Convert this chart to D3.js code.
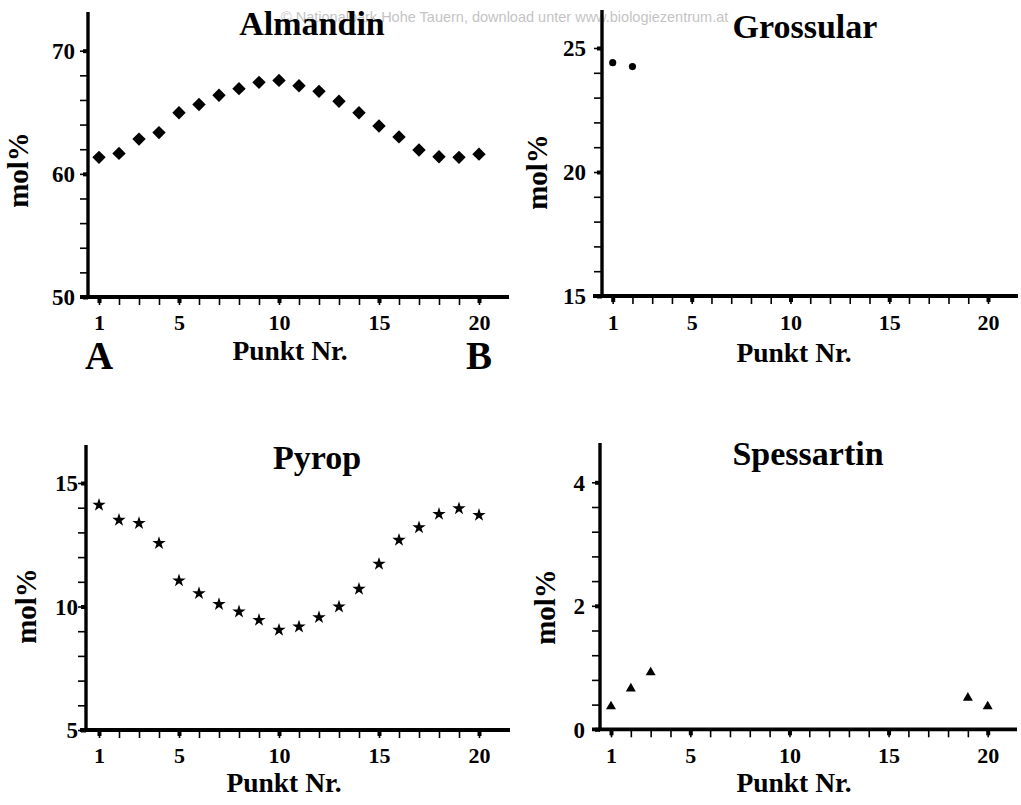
<!DOCTYPE html>
<html><head><meta charset="utf-8">
<script src="https://cdn.jsdelivr.net/npm/d3@7"></script>
<style>
body{margin:0;background:#fff}
svg{display:block}
text{font-family:"Liberation Serif","Times New Roman",serif;font-weight:bold;fill:#000}
</style>
</head><body><svg id="c" width="1021" height="805"></svg>
<script>
// ---- data ----
const pointNr = [1,2,3,4,5,6,7,8,9,10,11,12,13,14,15,16,17,18,19,20];
const almandin = [61.34,61.66,62.82,63.35,64.96,65.63,66.38,66.92,67.43,67.59,67.16,66.70,65.90,64.96,63.88,63.00,61.93,61.39,61.34,61.60];
const grossularNr = [1,2];
const grossular = [24.41,24.25];
const pyrop = [14.11,13.50,13.37,12.56,11.05,10.53,10.09,9.79,9.45,9.05,9.18,9.56,9.99,10.71,11.72,12.69,13.20,13.74,13.97,13.70];
const spessartinNr = [1,2,3,19,20];
const spessartin = [0.37,0.66,0.92,0.51,0.37];
const xTickLabels = [1,5,10,15,20];
const almandinYTicks = [50,60,70];
const grossularYTicks = [15,20,25];
const pyropYTicks = [5,10,15];
const spessartinYTicks = [0,2,4];
const titles = ["Almandin","Grossular","Pyrop","Spessartin"];
const yLabel = "mol%";
const xLabel = "Punkt Nr.";
const watermark = "\u00A9 Nationalpark Hohe Tauern, download unter www.biologiezentrum.at";

// ---- layout ----
const panels = [
  {title:titles[0], xs:pointNr, ys:almandin, marker:"diamond", majors:almandinYTicks, minorStep:2,
   yDom:[50,70], yRange:[297,50.7], yTop:12, xRange:[99,479], xExt:[80,509], axisX:88,
   titleX:312, titleY:35, gap:13, molX:28, molY:170, punktX:290, punktY:360, tlY:330, AB:true},
  {title:titles[1], xs:grossularNr, ys:grossular, marker:"circle", majors:grossularYTicks, minorStep:1,
   yDom:[15,25], yRange:[296,48], yTop:10, xRange:[612.7,988], xExt:[593,1018], axisX:602,
   titleX:805, titleY:38, gap:16, molX:547, molY:172, punktX:794, punktY:362, tlY:330},
  {title:titles[2], xs:pointNr, ys:pyrop, marker:"star", majors:pyropYTicks, minorStep:1,
   yDom:[5,15], yRange:[730,483], yTop:445, xRange:[99,479], xExt:[80,510], axisX:86,
   titleX:317, titleY:469, gap:8, molX:36, molY:606, punktX:284, punktY:792, tlY:763},
  {title:titles[3], xs:spessartinNr, ys:spessartin, marker:"triangle", majors:spessartinYTicks, minorStep:0.4,
   yDom:[0,4], yRange:[729.3,482.3], yTop:443, xRange:[611,987.7], xExt:[592,1017], axisX:600,
   titleX:808, titleY:465, gap:15, molX:555, molY:607, punktX:794, punktY:792, tlY:763}
];

const svg = d3.select("#c");

// watermark (behind everything)
svg.append("text").attr("x",281).attr("y",22)
  .style("font-family","'Liberation Sans',Arial,sans-serif").style("font-weight","normal")
  .style("font-size","14.5px").style("fill","#c4c4c4").text(watermark);

const symbols = {
  diamond: d3.symbol().type(d3.symbolSquare).size(90),
  circle: d3.symbol().type(d3.symbolCircle).size(40),
  star: d3.symbol().type(d3.symbolStar).size(56),
  triangle: d3.symbol().type(d3.symbolTriangle).size(43)
};

panels.forEach(p => {
  const g = svg.append("g");
  const x = d3.scaleLinear().domain([1,20]).range(p.xRange);
  const y = d3.scaleLinear().domain(p.yDom).range(p.yRange);
  const axisY = p.yRange[0];

  // minor y ticks
  const minors = d3.range(p.yDom[0], p.yDom[1] + 1e-9, p.minorStep).map(v => +v.toFixed(3));
  const ga = g.append("g").attr("transform",`translate(${p.axisX},0)`)
    .call(d3.axisLeft(y).tickValues(minors).tickSize(8).tickFormat(""));
  ga.select(".domain").remove();
  ga.selectAll("line").attr("stroke","#000").attr("stroke-width",1.6);
  const gm = g.append("g").attr("transform",`translate(${p.axisX},0)`)
    .call(d3.axisLeft(y).tickValues(p.majors).tickSize(5).tickFormat(d3.format("d")));
  gm.select(".domain").remove();
  gm.selectAll("line").attr("stroke","#000").attr("stroke-width",4);
  gm.selectAll("text").attr("x",-p.gap).attr("dy","0.34em")
    .style("font-size","23px");

  // x ticks
  const gx = g.append("g").attr("transform",`translate(0,${axisY})`)
    .call(d3.axisBottom(x).tickValues(pointNr).tickSize(8).tickFormat(""));
  gx.select(".domain").remove();
  gx.selectAll("line").attr("stroke","#000").attr("stroke-width",1.6);
  const gxm = g.append("g").attr("transform",`translate(0,${axisY})`)
    .call(d3.axisBottom(x).tickValues(xTickLabels).tickSize(6).tickFormat(d3.format("d")));
  gxm.select(".domain").remove();
  gxm.selectAll("line").attr("stroke","#000").attr("stroke-width",4);
  gxm.selectAll("text").attr("y",p.tlY - axisY).attr("dy",0)
    .style("font-size","22px");

  // axis lines
  g.append("line").attr("x1",p.axisX).attr("x2",p.axisX).attr("y1",p.yTop).attr("y2",axisY)
    .attr("stroke","#000").attr("stroke-width",3.4);
  g.append("line").attr("x1",p.xExt[0]).attr("x2",p.xExt[1]).attr("y1",axisY).attr("y2",axisY)
    .attr("stroke","#000").attr("stroke-width",3.8);

  // markers
  g.selectAll("path.m").data(p.ys).join("path").attr("class","m")
    .attr("d", symbols[p.marker])
    .attr("transform",(d,i)=>`translate(${x(p.xs[i])},${y(d)})` + (p.marker==="diamond"?" rotate(45)":""))
    .attr("fill","#000");

  // texts
  g.append("text").attr("x",p.titleX).attr("y",p.titleY).attr("text-anchor","middle")
    .style("font-size","34px").text(p.title);
  g.append("text").attr("transform",`translate(${p.molX},${p.molY}) rotate(-90)`)
    .attr("text-anchor","middle").style("font-size","29px").text(yLabel);
  g.append("text").attr("x",p.punktX).attr("y",p.punktY).attr("text-anchor","middle")
    .style("font-size","27.5px").text(xLabel);
  if (p.AB) {
    g.append("text").attr("x",x(1)).attr("y",369).attr("text-anchor","middle")
      .style("font-size","39px").text("A");
    g.append("text").attr("x",x(20)).attr("y",369).attr("text-anchor","middle")
      .style("font-size","39px").text("B");
  }
});
</script>
</body></html>
